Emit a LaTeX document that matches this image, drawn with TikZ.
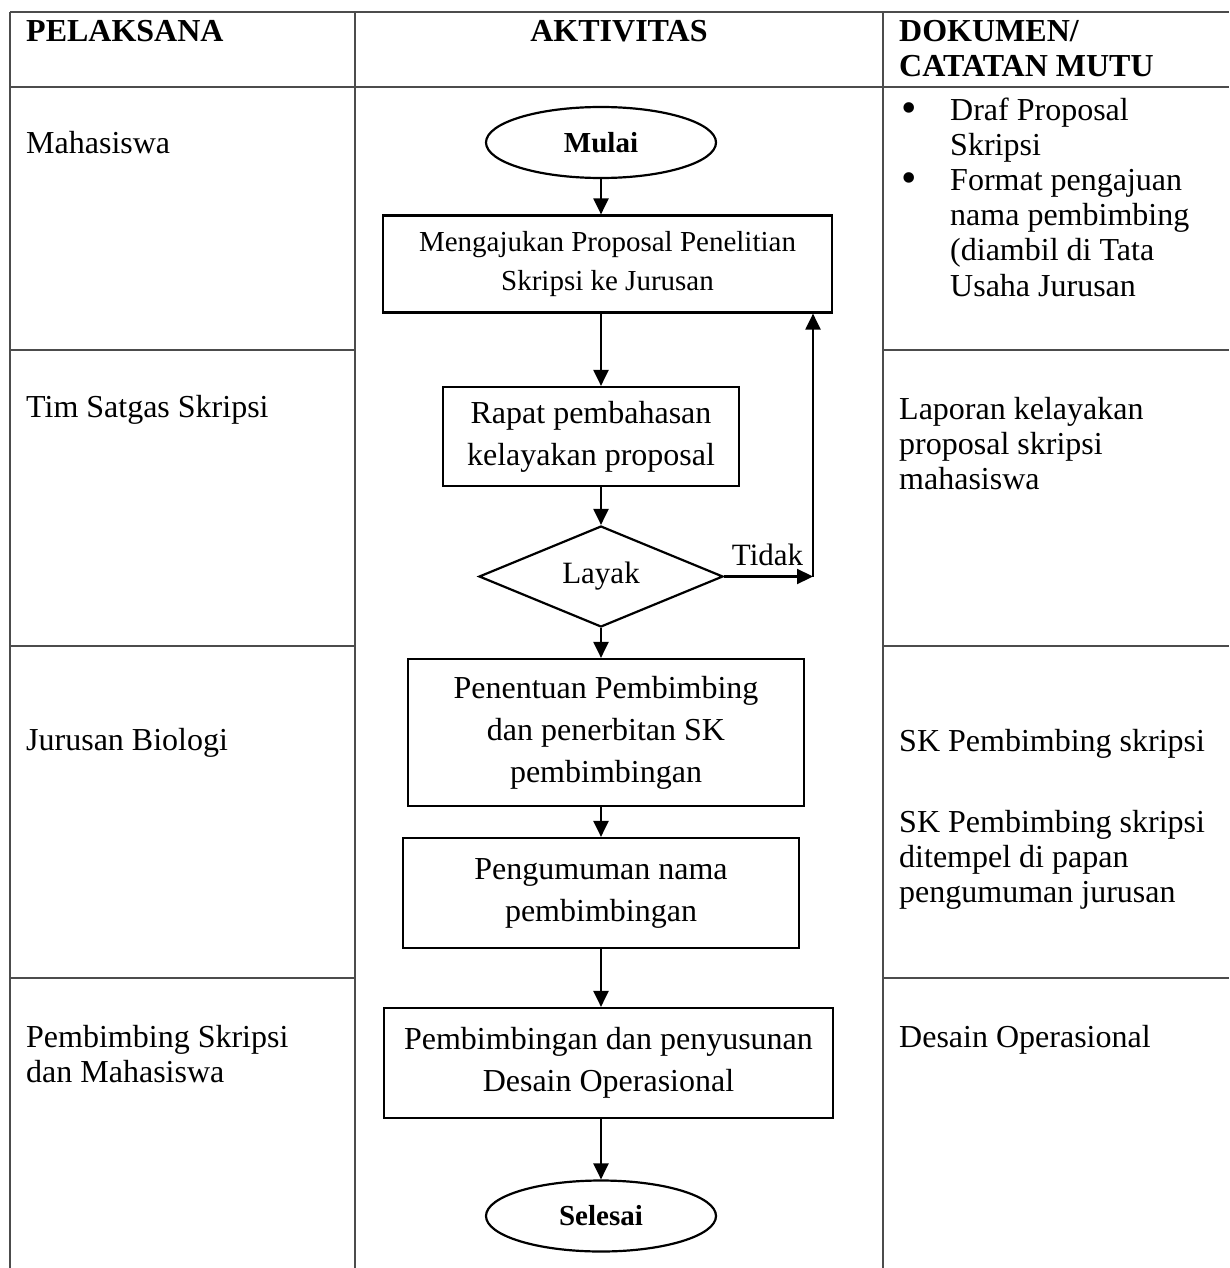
\documentclass[tikz,border=0pt]{standalone}
\usepackage{fontspec}
\setmainfont{Liberation Serif}
\usetikzlibrary{arrows.meta,shapes.geometric,calc}
\newcommand{\fsz}[2]{\fontsize{#1}{#2}\selectfont}
\newcommand{\lines}[1]{\begin{tabular}[t]{@{}l@{}}#1\end{tabular}}
\begin{document}
\begin{tikzpicture}[x=1pt,y=-1pt,
  tbl/.style={draw=black!70, line width=1.6pt},
  fl/.style={draw=black, line width=2.2pt},
  arr/.style={line width=2.2pt, -{Triangle[length=16pt,width=15pt]}},
  proc/.style={fl, rectangle, inner sep=0pt, align=center, font=\fsz{32}{42}},
  term/.style={fl, ellipse, inner sep=0pt, minimum width=230pt, minimum height=71pt, font=\bfseries\fsz{29}{34}},
  decis/.style={fl, diamond, inner sep=0pt, minimum width=244pt, minimum height=101pt, aspect=2.42, font=\fsz{31}{36}},
  coltxt/.style={anchor=base west, inner sep=0pt, font=\fsz{32}{35}},
  hdr/.style={anchor=base west, inner sep=0pt, font=\bfseries\fsz{32}{35}},
  bul/.style={anchor=base, inner sep=0pt, font=\fsz{44}{35}}
]
\useasboundingbox (0,0) rectangle (1229,1268);
\clip (0,0) rectangle (1229,1268);
\fill[white] (0,0) rectangle (1229,1268);

% table grid
\draw[tbl] (10,12) -- (1229,12);
\draw[tbl] (10,87) -- (1229,87);
\draw[tbl] (10,350) -- (355,350);
\draw[tbl] (10,646) -- (355,646);
\draw[tbl] (10,978) -- (355,978);
\draw[tbl] (883,350) -- (1229,350);
\draw[tbl] (883,646) -- (1229,646);
\draw[tbl] (883,978) -- (1229,978);
\draw[tbl] (10,12) -- (10,1268);
\draw[tbl] (355,12) -- (355,1268);
\draw[tbl] (883,12) -- (883,1268);

% headers
\node[hdr] (h1) at (26,42) {PELAKSANA};
\node[hdr, anchor=base] (h2) at (619,42) {AKTIVITAS};
\node[hdr] (h3) at (899,42) {\lines{DOKUMEN/\\CATATAN MUTU}};

% left column
\node[coltxt] (p1) at (26,154) {Mahasiswa};
\node[coltxt] (p2) at (26,417) {Tim Satgas Skripsi};
\node[coltxt] (p3) at (26,750) {Jurusan Biologi};
\node[coltxt] (p4) at (26,1047) {\lines{Pembimbing Skripsi\\dan Mahasiswa}};

% right column
\node[bul] (b1) at (909,123) {•};
\node[coltxt] (d1) at (950,121) {\lines{Draf Proposal\\Skripsi}};
\node[bul] (b2) at (909,193) {•};
\node[coltxt] (d2) at (950,191) {\lines{Format pengajuan\\nama pembimbing\\(diambil di Tata\\Usaha Jurusan}};
\node[coltxt] (d3) at (899,419) {\lines{Laporan kelayakan\\proposal skripsi\\mahasiswa}};
\node[coltxt] (d4) at (899,751) {SK Pembimbing skripsi};
\node[coltxt] (d5) at (899,832) {\lines{SK Pembimbing skripsi\\ditempel di papan\\pengumuman jurusan}};
\node[coltxt] (d6) at (899,1047) {Desain Operasional};

% flowchart
\node[term] (mulai) at (601,142.5) {Mulai};
\node[proc, minimum width=449pt, minimum height=97pt, font=\fsz{29}{39}] (box1) at (607.5,264) {Mengajukan Proposal Penelitian\\Skripsi ke Jurusan};
\node[proc, minimum width=296pt, minimum height=99pt] (box2) at (591,436.5) {Rapat pembahasan\\kelayakan proposal};
\node[decis] (layak) at (601,576.5) {Layak};
\node[proc, minimum width=396pt, minimum height=147pt] (box3) at (606,732.5) {Penentuan Pembimbing\\dan penerbitan SK\\pembimbingan};
\node[proc, minimum width=396pt, minimum height=110pt] (box4) at (601,893) {Pengumuman nama\\pembimbingan};
\node[proc, minimum width=449pt, minimum height=110pt] (box5) at (608.5,1063) {Pembimbingan dan penyusunan\\Desain Operasional};
\node[term] (selesai) at (601,1216) {Selesai};

\draw[arr] (mulai.south) -- (mulai.south |- box1.north);
\draw[arr] (mulai.south |- box1.south) -- (mulai.south |- box2.north);
\draw[arr] (mulai.south |- box2.south) -- (layak.north);
\draw[arr] (layak.south) -- (layak.south |- box3.north);
\draw[arr] (layak.south |- box3.south) -- (layak.south |- box4.north);
\draw[arr] (layak.south |- box4.south) -- (layak.south |- box5.north);
\draw[arr] (layak.south |- box5.south) -- (selesai.north);

\coordinate (ret) at (813,576.5);
\draw[arr] (layak.east) -- (ret);
\draw[arr] (ret) -- (ret |- box1.south);
\node[anchor=base, inner sep=0pt, font=\fsz{31}{36}] (tidak) at (767.5,565) {Tidak};
\end{tikzpicture}
\end{document}
